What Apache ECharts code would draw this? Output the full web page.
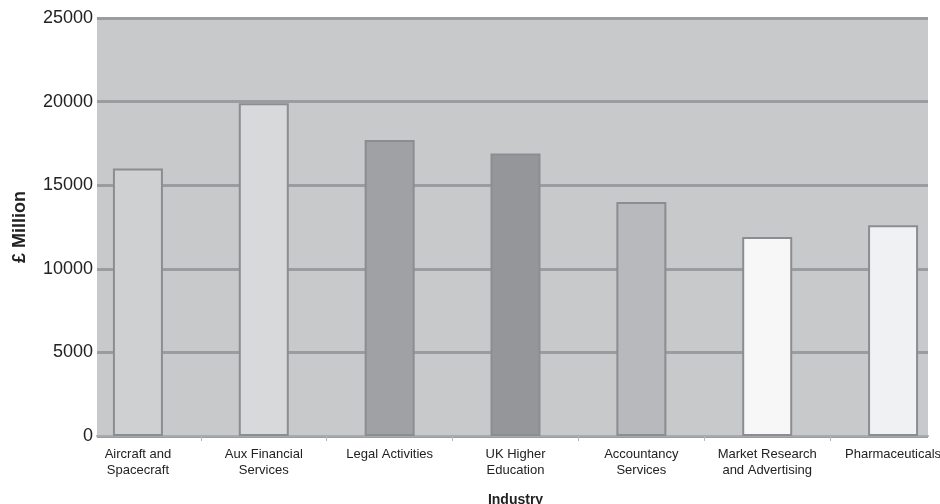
<!DOCTYPE html>
<html>
<head>
<meta charset="utf-8">
<title>Industry value</title>
<script src="https://cdn.jsdelivr.net/npm/echarts@6/dist/echarts.min.js"></script>
<style>
  html, body { margin: 0; padding: 0; background: #ffffff; }
  #chart { width: 940px; height: 504px; }
</style>
</head>
<body>
<div id="chart"></div>
<script>
// Industry categories (x axis) and their values in £ million
const categories = [
  'Aircraft and\nSpacecraft',
  'Aux Financial\nServices',
  'Legal Activities',
  'UK Higher\nEducation',
  'Accountancy\nServices',
  'Market Research\nand Advertising',
  'Pharmaceuticals'
];
const values = [16000, 19900, 17700, 16900, 14000, 11900, 12600];
const barColors = ['#cfd0d2', '#d8d9db', '#a0a1a4', '#95969a', '#b8b9bc', '#f7f7f8', '#f0f1f3'];
const yTicks = [0, 5000, 10000, 15000, 20000, 25000];

const FONT = '"Liberation Sans", Arial, sans-serif';
const yMin = yTicks[0];
const yMax = yTicks[yTicks.length - 1];
const yStep = yTicks[1] - yTicks[0];

const chart = echarts.init(document.getElementById('chart'), null, { renderer: 'canvas' });

chart.setOption({
  animation: false,
  backgroundColor: '#ffffff',
  grid: [
    // shaded plotting panel with the gridlines and value labels
    { left: 97, right: 12, top: 18, bottom: 68, show: true, backgroundColor: '#c8c9cb', borderWidth: 0,
      outerBoundsMode: 'none', containLabel: false },
    // bar layout: category bands are wider than the shaded panel
    { left: 75, right: -16, top: 18, bottom: 68, outerBoundsMode: 'none', containLabel: false }
  ],
  xAxis: [
    {
      gridIndex: 0, type: 'value', min: 0, max: 1,
      axisLine: { show: true, lineStyle: { color: '#a9aaac', width: 2 } },
      axisTick: { show: false }, axisLabel: { show: false }, splitLine: { show: false }
    },
    {
      gridIndex: 1, type: 'category', data: categories,
      name: 'Industry', nameLocation: 'middle', nameGap: 57,
      nameTextStyle: { fontFamily: FONT, fontSize: 14, fontWeight: 'bold', color: '#222' },
      axisLine: { show: false },
      axisTick: {
        show: true, length: 5,
        interval: (idx) => idx > 0 && idx < categories.length,
        lineStyle: { color: '#b5b6b8', width: 1 }
      },
      axisLabel: {
        interval: 0, margin: 10, fontFamily: FONT, fontSize: 13, lineHeight: 16, color: '#222'
      },
      splitLine: { show: false }
    }
  ],
  yAxis: [
    {
      gridIndex: 0, type: 'value', min: yMin, max: yMax, interval: yStep,
      name: '£ Million', nameLocation: 'middle', nameGap: 68, nameRotate: 90,
      nameTextStyle: { fontFamily: FONT, fontSize: 18, fontWeight: 'bold', color: '#222' },
      axisLine: { show: false }, axisTick: { show: false },
      axisLabel: { margin: 4, fontFamily: FONT, fontSize: 18, color: '#222', formatter: (v) => String(v) },
      splitLine: { show: true, lineStyle: { color: '#9b9c9f', width: 3 } }
    },
    {
      gridIndex: 1, type: 'value', min: yMin, max: yMax, interval: yStep,
      axisLine: { show: false }, axisTick: { show: false },
      axisLabel: { show: false }, splitLine: { show: false }
    }
  ],
  series: [
    {
      type: 'bar',
      xAxisIndex: 1, yAxisIndex: 1,
      barWidth: 50,
      data: values.map((v, i) => ({
        value: v,
        itemStyle: { color: barColors[i] }
      })),
      itemStyle: { borderColor: '#8c8d90', borderWidth: 2 }
    }
  ]
});
</script>
</body>
</html>
